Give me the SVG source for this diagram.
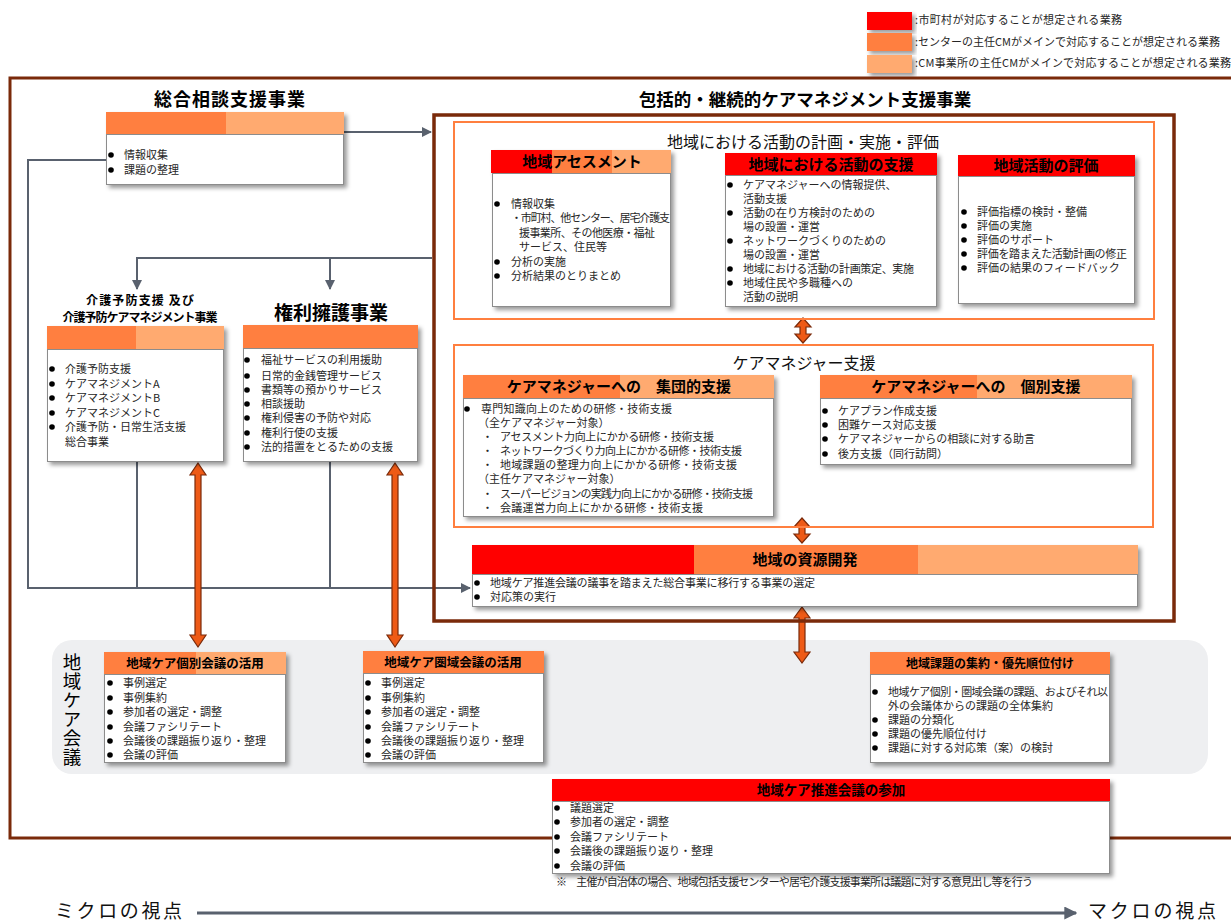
<svg xmlns="http://www.w3.org/2000/svg" width="1231" height="924" viewBox="0 0 1231 924">
<defs>
<filter id="sh" x="-5%" y="-10%" width="115%" height="130%"><feDropShadow dx="3" dy="3" stdDeviation="2" flood-color="#000" flood-opacity="0.4"/></filter>
<marker id="ah" viewBox="0 0 10 10" refX="9" refY="5" markerWidth="10" markerHeight="10" markerUnits="userSpaceOnUse" orient="auto"><path d="M0,0 L10,5 L0,10 Z" fill="#59616E"/></marker>
<marker id="ah2" viewBox="0 0 10 10" refX="9" refY="5" markerWidth="13" markerHeight="13" markerUnits="userSpaceOnUse" orient="auto"><path d="M0,0 L10,5 L0,10 Z" fill="#59616E"/></marker>
</defs>
<style>
.t{font-family:"Noto Sans CJK JP","Noto Sans CJK SC",sans-serif}
.b{font-size:11px;fill:#262626}
.h{font-weight:bold;fill:#000;text-anchor:middle}
.box{fill:#fff;stroke:#8c8c8c;stroke-width:1}
.r{fill:#FF0000}.o{fill:#FF7F3F}.l{fill:#FFAA70}
.dot{fill:#000}
.conn{fill:none;stroke:#59616E;stroke-width:2}
.dbl{fill:#EE5A16;stroke:#7A2A0A;stroke-width:1.2}
.frame{fill:none;stroke:#7A2A0A}
.ofr{fill:none;stroke:#FF7F3F;stroke-width:2}
</style>

<!-- legend -->
<g id="legend">
<rect class="r" x="867" y="12" width="45" height="18" filter="url(#sh)"/>
<rect class="o" x="867" y="33" width="45" height="18" filter="url(#sh)"/>
<rect class="l" x="867" y="55" width="45" height="18" filter="url(#sh)"/>
<text class="t b" x="915" y="24" font-size="10.5" textLength="207">:市町村が対応することが想定される業務</text>
<text class="t b" x="915" y="46" font-size="10.5" textLength="305">:センターの主任CMがメインで対応することが想定される業務</text>
<text class="t b" x="915" y="67" font-size="10.5" textLength="316">:CM事業所の主任CMがメインで対応することが想定される業務</text>
</g>

<!-- outer frame -->
<rect class="frame" x="10" y="78" width="1240" height="760" stroke-width="3"/>

<!-- chiiki care kaigi region -->
<g id="care-kaigi-area">
<rect x="52" y="640" width="1156" height="134" rx="20" fill="#EEEFF1"/>
<text class="t" x="72" y="653" font-size="18.5" fill="#000" writing-mode="vertical-rl" letter-spacing="0.5">地域ケア会議</text>
</g>

<!-- connectors -->
<g id="connectors">
<path class="conn" d="M344,132 H431" marker-end="url(#ah)"/>
<path class="conn" d="M432,258 H137 V289" marker-end="url(#ah)"/>
<path class="conn" d="M330,258 V289" marker-end="url(#ah)"/>
<path class="conn" d="M106,160 H28 V588 H470" marker-end="url(#ah)"/>
<path class="conn" d="M137,461 V588"/>
<path class="conn" d="M330,461 V588"/>
<path d="M198,463 L206,475 L201,475 L201,635 L206,635 L198,647 L190,635 L195,635 L195,475 L190,475 Z" class="dbl"/>
<path d="M395,463 L403,475 L398,475 L398,635 L403,635 L395,647 L387,635 L392,635 L392,475 L387,475 Z" class="dbl"/>
<path d="M803,318 L811,327 L806,327 L806,334 L811,334 L803,343 L795,334 L800,334 L800,327 L795,327 Z" class="dbl"/>
<path d="M802,518 L810,527 L805,527 L805,534 L810,534 L802,543 L794,534 L799,534 L799,527 L794,527 Z" class="dbl"/>
<path d="M802,607 L810,618 L805,618 L805,652 L810,652 L802,663 L794,652 L799,652 L799,618 L794,618 Z" class="dbl"/>
<path d="M197,913 H1076" fill="none" stroke="#59616E" stroke-width="3" marker-end="url(#ah2)"/>
</g>

<!-- 総合相談支援事業 -->
<g id="sogo">
<text class="t h" x="230" y="106" font-size="18" letter-spacing="1">総合相談支援事業</text>
<g filter="url(#sh)">
<rect class="o" x="106" y="112" width="120" height="22"/>
<rect class="l" x="226" y="112" width="118" height="22"/>
<rect class="box" x="106.5" y="134.5" width="237" height="50"/>
</g>
<circle class="dot" cx="111" cy="155" r="2.8"/><circle class="dot" cx="111" cy="170" r="2.8"/>
<text class="t b" x="124" y="159" font-size="11.5">情報収集</text>
<text class="t b" x="124" y="174" font-size="11.5">課題の整理</text>
</g>

<!-- 包括的・継続的 frame -->
<g id="houkatsu">
<text class="t h" x="805" y="106" font-size="17.5">包括的・継続的ケアマネジメント支援事業</text>
<rect class="frame" x="434" y="115" width="740" height="506" stroke-width="3.5"/>
<rect class="ofr" x="454" y="122" width="700" height="197"/>
<text class="t" x="803" y="148" font-size="16" fill="#111" text-anchor="middle">地域における活動の計画・実施・評価</text>
<rect class="ofr" x="454" y="345" width="699" height="182"/>
<text class="t" x="804" y="369" font-size="16" fill="#111" text-anchor="middle">ケアマネジャー支援</text>
</g>

<!-- 地域アセスメント -->
<g id="assessment">
<g filter="url(#sh)">
<rect class="box" x="492.5" y="173.5" width="178" height="133"/>
<rect class="r" x="491" y="150" width="61" height="23"/>
<rect class="o" x="552" y="150" width="60" height="23"/>
<rect class="l" x="612" y="150" width="59" height="23"/>
</g>
<text class="t h" x="582" y="167" font-size="15">地域アセスメント</text>
<circle class="dot" cx="497" cy="204" r="2.8"/><circle class="dot" cx="497" cy="262" r="2.8"/><circle class="dot" cx="497" cy="276" r="2.8"/>
<text class="t b" x="511" y="208">情報収集</text>
<text class="t b" x="511" y="222" textLength="159">・市町村、他センター、居宅介護支</text>
<text class="t b" x="519" y="237" textLength="136">援事業所、その他医療・福祉</text>
<text class="t b" x="519" y="251">サービス、住民等</text>
<text class="t b" x="511" y="266">分析の実施</text>
<text class="t b" x="511" y="280">分析結果のとりまとめ</text>
</g>

<!-- 地域における活動の支援 -->
<g id="katsudo-shien">
<g filter="url(#sh)">
<rect class="box" x="725.5" y="175.5" width="211" height="131"/>
<rect class="r" x="725" y="153" width="212" height="22"/>
</g>
<text class="t h" x="831" y="170" font-size="15">地域における活動の支援</text>
<circle class="dot" cx="730" cy="185" r="2.8"/><circle class="dot" cx="730" cy="213" r="2.8"/><circle class="dot" cx="730" cy="241" r="2.8"/><circle class="dot" cx="730" cy="269" r="2.8"/><circle class="dot" cx="730" cy="283" r="2.8"/>
<text class="t b" x="743" y="189">ケアマネジャーへの情報提供、</text>
<text class="t b" x="743" y="203">活動支援</text>
<text class="t b" x="743" y="217">活動の在り方検討のための</text>
<text class="t b" x="743" y="231">場の設置・運営</text>
<text class="t b" x="743" y="245">ネットワークづくりのための</text>
<text class="t b" x="743" y="259">場の設置・運営</text>
<text class="t b" x="743" y="273" textLength="171">地域における活動の計画策定、実施</text>
<text class="t b" x="743" y="287">地域住民や多職種への</text>
<text class="t b" x="743" y="301">活動の説明</text>
</g>

<!-- 地域活動の評価 -->
<g id="hyoka">
<g filter="url(#sh)">
<rect class="box" x="958.5" y="176.5" width="176" height="127"/>
<rect class="r" x="958" y="155" width="177" height="21"/>
</g>
<text class="t h" x="1046" y="171" font-size="15">地域活動の評価</text>
<circle class="dot" cx="964" cy="212" r="2.8"/><circle class="dot" cx="964" cy="226" r="2.8"/><circle class="dot" cx="964" cy="240" r="2.8"/><circle class="dot" cx="964" cy="254" r="2.8"/><circle class="dot" cx="964" cy="268" r="2.8"/>
<text class="t b" x="977" y="216">評価指標の検討・整備</text>
<text class="t b" x="977" y="230">評価の実施</text>
<text class="t b" x="977" y="244">評価のサポート</text>
<text class="t b" x="977" y="258" textLength="150">評価を踏まえた活動計画の修正</text>
<text class="t b" x="977" y="272">評価の結果のフィードバック</text>
</g>

<!-- 集団的支援 -->
<g id="shudan">
<g filter="url(#sh)">
<rect class="box" x="463.5" y="398.5" width="310" height="118"/>
<rect class="o" x="463" y="375" width="157" height="23"/>
<rect class="l" x="620" y="375" width="154" height="23"/>
</g>
<text class="t h" x="619" y="392" font-size="15">ケアマネジャーへの　集団的支援</text>
<circle class="dot" cx="467" cy="409" r="2.8"/>
<text class="t b" x="481" y="413" textLength="191">専門知識向上のための研修・技術支援</text>
<text class="t b" x="478" y="427">（全ケアマネジャー対象）</text>
<text class="t b" x="482" y="441">・</text><text class="t b" x="500" y="441" textLength="214">アセスメント力向上にかかる研修・技術支援</text>
<text class="t b" x="482" y="455">・</text><text class="t b" x="500" y="455" textLength="242">ネットワークづくり力向上にかかる研修・技術支援</text>
<text class="t b" x="482" y="469">・</text><text class="t b" x="500" y="469" textLength="237">地域課題の整理力向上にかかる研修・技術支援</text>
<text class="t b" x="478" y="483">（主任ケアマネジャー対象）</text>
<text class="t b" x="482" y="498">・</text><text class="t b" x="500" y="498" textLength="253">スーパービジョンの実践力向上にかかる研修・技術支援</text>
<text class="t b" x="482" y="512">・</text><text class="t b" x="500" y="512" textLength="203">会議運営力向上にかかる研修・技術支援</text>
</g>

<!-- 個別支援 -->
<g id="kobetsu">
<g filter="url(#sh)">
<rect class="box" x="820.5" y="398.5" width="311" height="66"/>
<rect class="o" x="820" y="375" width="157" height="23"/>
<rect class="l" x="977" y="375" width="155" height="23"/>
</g>
<text class="t h" x="976" y="392" font-size="15">ケアマネジャーへの　個別支援</text>
<circle class="dot" cx="825" cy="411" r="2.8"/><circle class="dot" cx="825" cy="425" r="2.8"/><circle class="dot" cx="825" cy="439" r="2.8"/><circle class="dot" cx="825" cy="454" r="2.8"/>
<text class="t b" x="838" y="415">ケアプラン作成支援</text>
<text class="t b" x="838" y="429">困難ケース対応支援</text>
<text class="t b" x="838" y="443" textLength="197">ケアマネジャーからの相談に対する助言</text>
<text class="t b" x="838" y="458">後方支援（同行訪問）</text>
</g>

<!-- 地域の資源開発 -->
<g id="shigen">
<g filter="url(#sh)">
<rect class="box" x="472.5" y="574.5" width="665" height="32" stroke="#ddd"/>
<rect class="r" x="472" y="545" width="222" height="29"/>
<rect class="o" x="694" y="545" width="224" height="29"/>
<rect class="l" x="918" y="545" width="220" height="29"/>
</g>
<text class="t h" x="805" y="565" font-size="15">地域の資源開発</text>
<circle class="dot" cx="477" cy="583" r="2.8"/><circle class="dot" cx="477" cy="597" r="2.8"/>
<text class="t b" x="490" y="587" textLength="325">地域ケア推進会議の議事を踏まえた総合事業に移行する事業の選定</text>
<text class="t b" x="490" y="601">対応策の実行</text>
</g>

<!-- 介護予防 -->
<g id="kaigo-yobo">
<text class="t h" x="140" y="305" font-size="12" textLength="108">介護予防支援 及び</text>
<text class="t h" x="140" y="322" font-size="12" textLength="155">介護予防ケアマネジメント事業</text>
<g filter="url(#sh)">
<rect class="box" x="47.5" y="349.5" width="176" height="112"/>
<rect class="o" x="47" y="326" width="89" height="23"/>
<rect class="l" x="136" y="326" width="88" height="23"/>
</g>
<circle class="dot" cx="52" cy="369" r="2.8"/><circle class="dot" cx="52" cy="384" r="2.8"/><circle class="dot" cx="52" cy="398" r="2.8"/><circle class="dot" cx="52" cy="413" r="2.8"/><circle class="dot" cx="52" cy="427" r="2.8"/>
<text class="t b" x="65" y="373">介護予防支援</text>
<text class="t b" x="65" y="388">ケアマネジメントA</text>
<text class="t b" x="65" y="402">ケアマネジメントB</text>
<text class="t b" x="65" y="417">ケアマネジメントC</text>
<text class="t b" x="65" y="431">介護予防・日常生活支援</text>
<text class="t b" x="65" y="446">総合事業</text>
</g>

<!-- 権利擁護事業 -->
<g id="kenri">
<text class="t h" x="331" y="320" font-size="19">権利擁護事業</text>
<g filter="url(#sh)">
<rect class="box" x="243.5" y="348.5" width="174" height="113"/>
<rect class="o" x="243" y="325" width="175" height="23"/>
</g>
<circle class="dot" cx="247" cy="360" r="2.8"/><circle class="dot" cx="247" cy="376" r="2.8"/><circle class="dot" cx="247" cy="390" r="2.8"/><circle class="dot" cx="247" cy="404" r="2.8"/><circle class="dot" cx="247" cy="418" r="2.8"/><circle class="dot" cx="247" cy="433" r="2.8"/><circle class="dot" cx="247" cy="447" r="2.8"/>
<text class="t b" x="261" y="364">福祉サービスの利用援助</text>
<text class="t b" x="261" y="380">日常的金銭管理サービス</text>
<text class="t b" x="261" y="394">書類等の預かりサービス</text>
<text class="t b" x="261" y="408">相談援助</text>
<text class="t b" x="261" y="422">権利侵害の予防や対応</text>
<text class="t b" x="261" y="437">権利行使の支援</text>
<text class="t b" x="261" y="451">法的措置をとるための支援</text>
</g>

<!-- 地域ケア個別会議 -->
<g id="kobetsu-kaigi">
<g filter="url(#sh)">
<rect class="box" x="104.5" y="674.5" width="181" height="88"/>
<rect class="o" x="104" y="652" width="92" height="22"/>
<rect class="l" x="196" y="652" width="90" height="22"/>
</g>
<text class="t h" x="195" y="668" font-size="12.5">地域ケア個別会議の活用</text>
<circle class="dot" cx="110" cy="683" r="2.8"/><circle class="dot" cx="110" cy="698" r="2.8"/><circle class="dot" cx="110" cy="712" r="2.8"/><circle class="dot" cx="110" cy="727" r="2.8"/><circle class="dot" cx="110" cy="741" r="2.8"/><circle class="dot" cx="110" cy="755" r="2.8"/>
<text class="t b" x="123" y="687">事例選定</text>
<text class="t b" x="123" y="702">事例集約</text>
<text class="t b" x="123" y="716">参加者の選定・調整</text>
<text class="t b" x="123" y="731">会議ファシリテート</text>
<text class="t b" x="123" y="745">会議後の課題振り返り・整理</text>
<text class="t b" x="123" y="759">会議の評価</text>
</g>

<!-- 地域ケア圏域会議 -->
<g id="keniki-kaigi">
<g filter="url(#sh)">
<rect class="box" x="363.5" y="673.5" width="180" height="89"/>
<rect class="o" x="363" y="651" width="181" height="22"/>
</g>
<text class="t h" x="453" y="667" font-size="12.5">地域ケア圏域会議の活用</text>
<circle class="dot" cx="368" cy="683" r="2.8"/><circle class="dot" cx="368" cy="698" r="2.8"/><circle class="dot" cx="368" cy="712" r="2.8"/><circle class="dot" cx="368" cy="727" r="2.8"/><circle class="dot" cx="368" cy="741" r="2.8"/><circle class="dot" cx="368" cy="755" r="2.8"/>
<text class="t b" x="381" y="687">事例選定</text>
<text class="t b" x="381" y="702">事例集約</text>
<text class="t b" x="381" y="716">参加者の選定・調整</text>
<text class="t b" x="381" y="731">会議ファシリテート</text>
<text class="t b" x="381" y="745">会議後の課題振り返り・整理</text>
<text class="t b" x="381" y="759">会議の評価</text>
</g>

<!-- 地域課題の集約・優先順位付け -->
<g id="kadai">
<g filter="url(#sh)">
<rect class="box" x="870.5" y="674.5" width="239" height="88"/>
<rect class="o" x="870" y="652" width="240" height="22"/>
</g>
<text class="t h" x="990" y="668" font-size="12">地域課題の集約・優先順位付け</text>
<circle class="dot" cx="875" cy="692" r="2.8"/><circle class="dot" cx="875" cy="720" r="2.8"/><circle class="dot" cx="875" cy="734" r="2.8"/><circle class="dot" cx="875" cy="748" r="2.8"/>
<text class="t b" x="888" y="696" textLength="220">地域ケア個別・圏域会議の課題、およびそれ以</text>
<text class="t b" x="888" y="710">外の会議体からの課題の全体集約</text>
<text class="t b" x="888" y="724">課題の分類化</text>
<text class="t b" x="888" y="738">課題の優先順位付け</text>
<text class="t b" x="888" y="752">課題に対する対応策（案）の検討</text>
</g>

<!-- 地域ケア推進会議の参加 -->
<g id="suishin">
<g filter="url(#sh)">
<rect class="box" x="552.5" y="801.5" width="557" height="72"/>
<rect class="r" x="552" y="779" width="558" height="22"/>
</g>
<text class="t h" x="831" y="795" font-size="13.5">地域ケア推進会議の参加</text>
<circle class="dot" cx="557" cy="808" r="2.8"/><circle class="dot" cx="557" cy="822" r="2.8"/><circle class="dot" cx="557" cy="837" r="2.8"/><circle class="dot" cx="557" cy="851" r="2.8"/><circle class="dot" cx="557" cy="866" r="2.8"/>
<text class="t b" x="570" y="812">議題選定</text>
<text class="t b" x="570" y="826">参加者の選定・調整</text>
<text class="t b" x="570" y="841">会議ファシリテート</text>
<text class="t b" x="570" y="855">会議後の課題振り返り・整理</text>
<text class="t b" x="570" y="870">会議の評価</text>
<text class="t b" x="556" y="886" font-size="10" textLength="477">※　主催が自治体の場合、地域包括支援センターや居宅介護支援事業所は議題に対する意見出し等を行う</text>
</g>

<!-- micro / macro -->
<g id="axis">
<text class="t" x="55" y="918" font-size="19" fill="#111" textLength="127">ミクロの視点</text>
<text class="t" x="1088" y="918" font-size="19" fill="#111" textLength="128">マクロの視点</text>
</g>
</svg>
